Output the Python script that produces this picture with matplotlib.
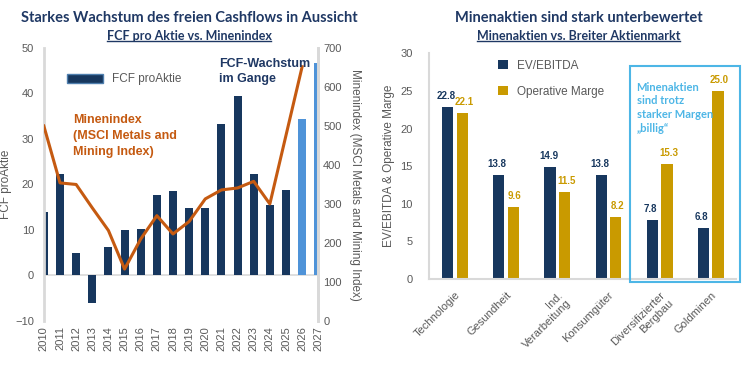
import numpy as np
import matplotlib
matplotlib.use("Agg")
from matplotlib import pyplot as plt
from matplotlib.patches import Patch, Rectangle
from matplotlib.lines import Line2D

# left chart data
years = [2010, 2011, 2012, 2013, 2014, 2015, 2016, 2017, 2018, 2019,
         2020, 2021, 2022, 2023, 2024, 2025, 2026, 2027]
fcf = [14, 22.2, 5, -6, 6.2, 10, 10.3, 17.6, 18.6, 14.8,
       14.8, 33.4, 39.4, 22.4, 15.5, 18.7, 34.3, 46.7]
index_years = [2010, 2011, 2012, 2013, 2014, 2015, 2016, 2017, 2018, 2019,
               2020, 2021, 2022, 2023, 2024, 2026]
index_vals = [500, 354, 350, 290, 232, 133, 210, 270, 223, 255,
              313, 336, 341, 358, 300, 652]

# right chart data
sectors = ["Technologie", "Gesundheit", "Ind.\nVerarbeitung", "Konsumgüter",
           "Diversifizierter\nBergbau", "Goldminen"]
ev_ebitda = [22.8, 13.8, 14.9, 13.8, 7.8, 6.8]
op_marge = [22.1, 9.6, 11.5, 8.2, 15.3, 25.0]

navy = "#17375E"
light = "#4F93D8"
orange = "#C55A11"
gold = "#C99A00"
boxblue = "#4DB6E6"
gray = "#595959"
spine = "#D9D9D9"
title_c = "#1F3864"

plt.rcParams["font.family"] = ["Liberation Sans", "DejaVu Sans"]
fig = plt.figure(figsize=(7.56, 3.78), dpi=100)


def underline(t):
    fig.canvas.draw()
    bb = t.get_window_extent().transformed(fig.transFigure.inverted())
    fig.add_artist(Line2D([bb.x0, bb.x1], [bb.y0 + 0.003, bb.y0 + 0.003],
                          transform=fig.transFigure, color=title_c, lw=1))


# ---------------- left chart ----------------
ax = fig.add_axes([0.058, 0.151, 0.363, 0.722])
colors = [navy] * 16 + [light, light]
ax.bar(years, fcf, width=0.5, color=colors, zorder=2)
ax.axhline(0, color=spine, lw=1.2, zorder=1)
ax.set_xlim(2010, 2027)
ax.set_ylim(-10, 50)
ax.set_yticks(range(-10, 51, 10))
ax.set_xticks(years)
ax.set_xticklabels([str(y) for y in years], rotation=90)
ax.tick_params(length=0, labelsize=8, labelcolor=gray)
ax.tick_params(axis="y", pad=7)
for s in ["top", "bottom"]:
    ax.spines[s].set_visible(False)
for s in ["left", "right"]:
    ax.spines[s].set_color(spine)
    ax.spines[s].set_linewidth(2)
ax.set_ylabel("FCF proAktie", fontsize=8.5, color=gray)
ax.yaxis.set_label_coords(-0.115, 0.5)

ax2 = ax.twinx()
ax2.plot(index_years, index_vals, color=orange, lw=2.2, zorder=3)
ax2.set_ylim(0, 700)
ax2.set_yticks(range(0, 701, 100))
ax2.tick_params(length=0, labelsize=8, labelcolor=gray)
for s in ["top", "bottom", "left"]:
    ax2.spines[s].set_visible(False)
ax2.spines["right"].set_color(spine)
ax2.spines["right"].set_linewidth(2)
ax2.set_ylabel("Minenindex (MSCI Metals and Mining Index)", fontsize=8.5,
               color=gray, rotation=-90, labelpad=14)

ax.legend(handles=[Patch(facecolor=navy, edgecolor="#4F7FAE")], labels=["FCF proAktie"],
          loc="center left", bbox_to_anchor=(0.075, 0.79), bbox_transform=fig.transFigure,
          frameon=False, fontsize=8.5, handlelength=3, handleheight=0.8, labelcolor=gray)

fig.text(0.097, 0.64, "Minenindex\n(MSCI Metals and\nMining Index)", fontsize=9,
         color=orange, fontweight="bold", va="center", linespacing=1.4)
fig.text(0.29, 0.81, "FCF-Wachstum\nim Gange", fontsize=9, color=title_c,
         fontweight="bold", va="center", linespacing=1.3)

fig.text(0.25, 0.953, "Starkes Wachstum des freien Cashflows in Aussicht",
         fontsize=10.5, fontweight="bold", color=title_c, ha="center", va="center",
         family=["Lato", "DejaVu Sans"])
t1 = fig.text(0.25, 0.905, "FCF pro Aktie vs. Minenindex", fontsize=9,
              fontweight="bold", color=title_c, ha="center", va="center",
              family=["Lato", "DejaVu Sans"])

# ---------------- right chart ----------------
bx = fig.add_axes([0.568, 0.262, 0.406, 0.597])
x = np.arange(len(sectors))
w = 0.22
b1 = bx.bar(x - 0.143, ev_ebitda, width=w, color=navy, label="EV/EBITDA", zorder=2)
b2 = bx.bar(x + 0.143, op_marge, width=w, color=gold, label="Operative Marge", zorder=2)
for r, v in zip(b1, ev_ebitda):
    bx.text(r.get_x() + r.get_width() / 2 - 0.03, v + 0.8, f"{v:.1f}", ha="center",
            va="bottom", fontsize=7, fontweight="bold", color=navy)
for r, v in zip(b2, op_marge):
    bx.text(r.get_x() + r.get_width() / 2 + 0.03, v + 0.8, f"{v:.1f}", ha="center",
            va="bottom", fontsize=7, fontweight="bold", color=gold)
bx.set_xlim(-0.5, 5.5)
bx.set_ylim(0, 30)
bx.set_yticks(range(0, 31, 5))
bx.set_xticks(x)
bx.set_xticklabels(sectors, rotation=45, ha="right", rotation_mode="anchor")
bx.tick_params(length=0, labelsize=8, labelcolor=gray)
bx.tick_params(axis="x", pad=8)
bx.tick_params(axis="y", pad=12)
for s in ["top", "right"]:
    bx.spines[s].set_visible(False)
for s in ["left", "bottom"]:
    bx.spines[s].set_color(spine)
    bx.spines[s].set_linewidth(1.5)
bx.set_ylabel("EV/EBITDA & Operative Marge", fontsize=8.5, color=gray, labelpad=4)
bx.legend(loc="upper left", bbox_to_anchor=(0.645, 0.87), bbox_transform=fig.transFigure,
          frameon=False, fontsize=8.5, handlelength=0.8, handleheight=0.8,
          labelspacing=1.2, labelcolor=gray)

fig.add_artist(Rectangle((630 / 756, 1 - 282 / 378), 110 / 756, 216 / 378,
                         transform=fig.transFigure, fill=False, edgecolor=boxblue, lw=1.5))
fig.text(0.842, 0.715, "Minenaktien\nsind trotz\nstarker Margen\n\u201ebillig\u201c",
         fontsize=8, color=boxblue, fontweight="bold", va="center", linespacing=1.3,
         family=["Lato", "DejaVu Sans"])

fig.text(0.765, 0.953, "Minenaktien sind stark unterbewertet", fontsize=10.5,
         fontweight="bold", color=title_c, ha="center", va="center",
         family=["Lato", "DejaVu Sans"])
t2 = fig.text(0.765, 0.905, "Minenaktien vs. Breiter Aktienmarkt", fontsize=9,
              fontweight="bold", color=title_c, ha="center", va="center",
              family=["Lato", "DejaVu Sans"])

underline(t1)
underline(t2)

fig.savefig("out.png", dpi=100)
